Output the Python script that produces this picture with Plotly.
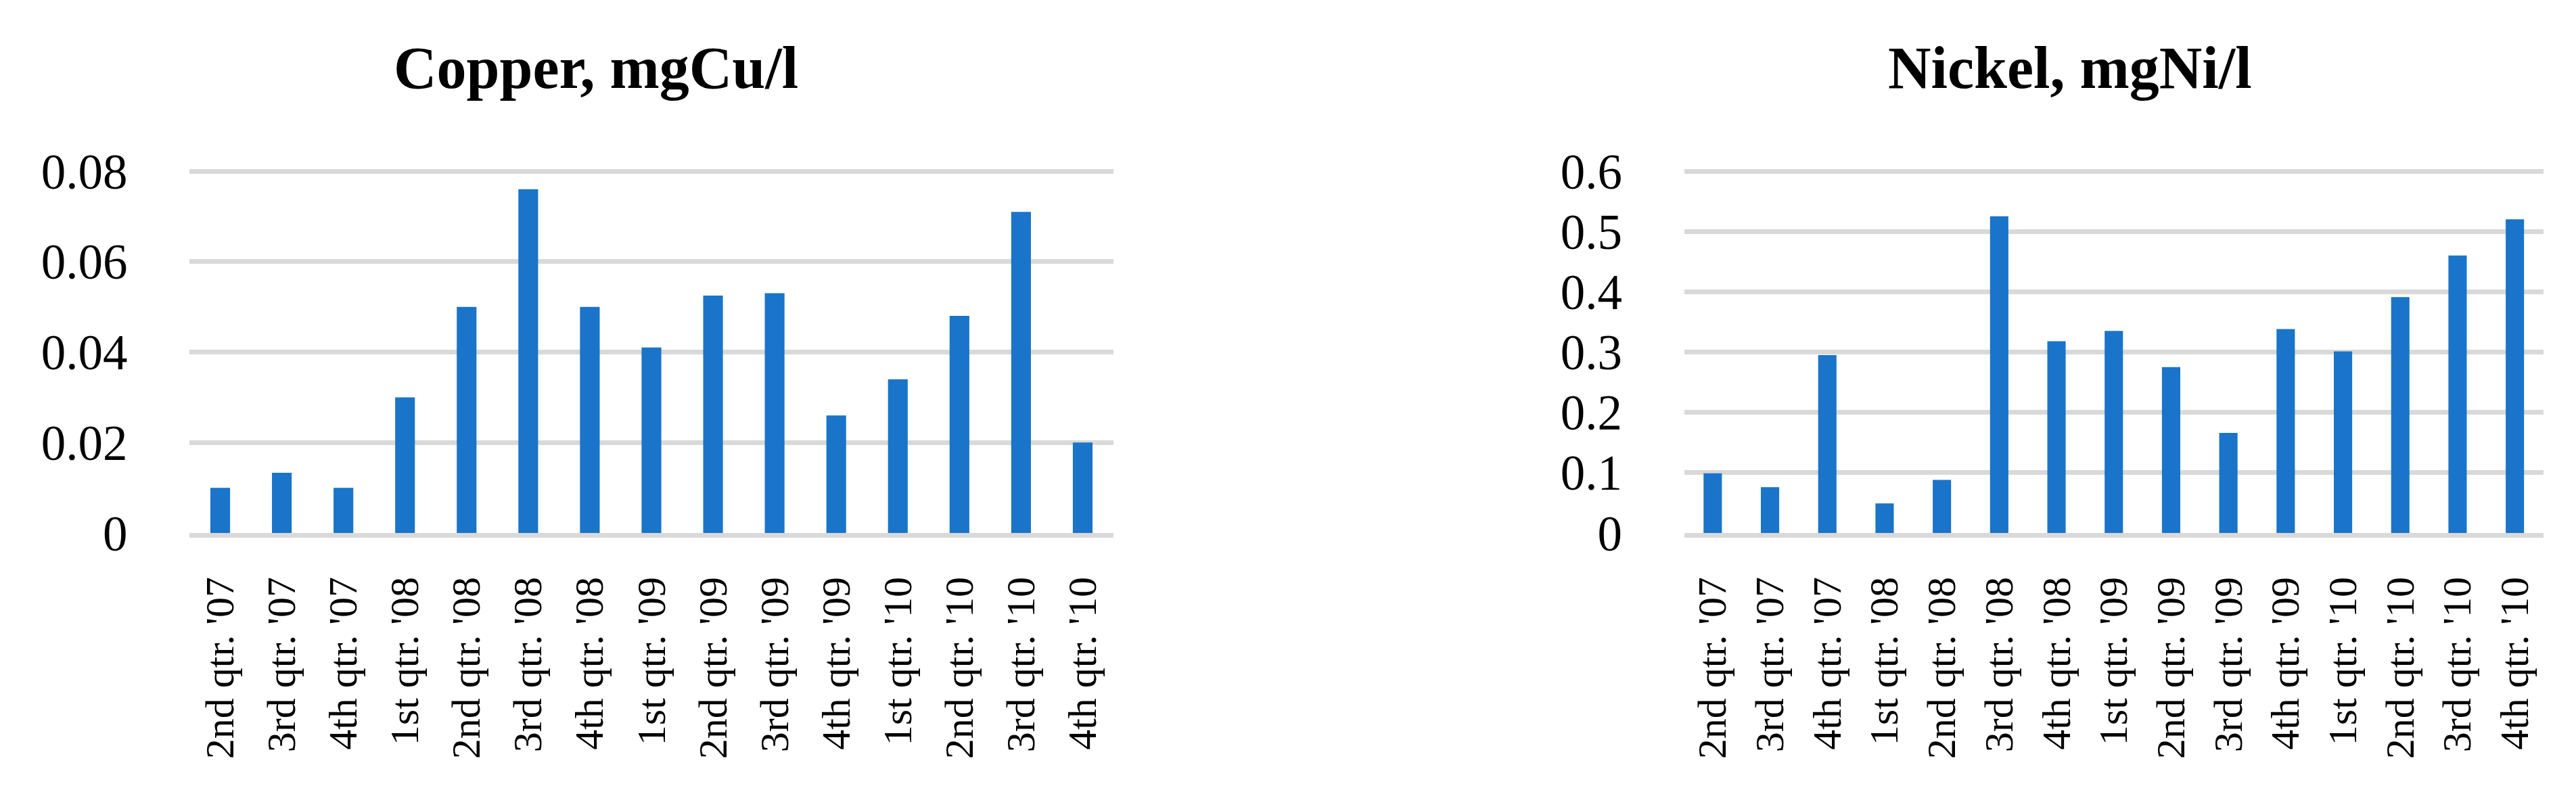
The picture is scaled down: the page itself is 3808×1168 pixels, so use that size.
import plotly.graph_objects as go


# Datos (trimestres 2007 - 2010)
trimestres = ["2nd qtr. '07", "3rd qtr. '07", "4th qtr. '07",
              "1st qtr. '08", "2nd qtr. '08", "3rd qtr. '08", "4th qtr. '08",
              "1st qtr. '09", "2nd qtr. '09", "3rd qtr. '09", "4th qtr. '09",
              "1st qtr. '10", "2nd qtr. '10", "3rd qtr. '10", "4th qtr. '10"]

cobre = [0.010, 0.0133, 0.010, 0.030, 0.050, 0.076, 0.050, 0.041,
         0.0525, 0.053, 0.026, 0.034, 0.048, 0.071, 0.020]

niquel = [0.099, 0.076, 0.295, 0.049, 0.088, 0.525, 0.318, 0.335,
          0.275, 0.166, 0.338, 0.301, 0.391, 0.460, 0.520]

titulos = ['Copper, mgCu/l', 'Nickel, mgNi/l']
ticks_cobre = [0, 0.02, 0.04, 0.06, 0.08]
ticks_niquel = [0, 0.1, 0.2, 0.3, 0.4, 0.5, 0.6]

AZUL = '#1a74c9'
GRIS = '#d9d9d9'
FUENTE = 'Times New Roman, Liberation Serif, serif'

W, H = 3808, 1168
# el body de la pagina trae 8px de margen, se descuenta de todas las posiciones
OFF = 8
# zona de graficado en pixeles de la pagina (0 en 788, tope en 253)
Y0, Y1 = 788 - OFF, 253 - OFF
EXTRA = 5  # pixeles de mas arriba para que se vea la ultima linea de grilla


def px(x):
    return (x - OFF) / W


def eje_x(dominio):
    return dict(
        domain=dominio,
        type='category',
        tickangle=-90,
        ticks='outside', ticklen=34, tickcolor='rgba(0,0,0,0)',
        tickfont=dict(family=FUENTE, size=60, color='black'),
        showgrid=False, zeroline=False,
        showline=True, linecolor=GRIS, linewidth=7,
        automargin=False,
        fixedrange=True)


def eje_y(ticks, anchor):
    tope = ticks[-1] * (1 + EXTRA / (Y0 - Y1))
    return dict(
        domain=[(H - Y0) / H, (H - Y1 + EXTRA) / H],
        anchor=anchor,
        range=[0, tope],
        tickvals=ticks,
        ticks='outside', ticklen=76, tickcolor='rgba(0,0,0,0)',
        tickfont=dict(family=FUENTE, size=73, color='black'),
        showgrid=True, gridcolor=GRIS, gridwidth=7,
        zeroline=False, showline=False,
        automargin=False,
        fixedrange=True)


fig = go.Figure()

fig.add_trace(go.Bar(x=trimestres, y=cobre, marker_color=AZUL,
                     marker_line_width=0, xaxis='x', yaxis='y'))
fig.add_trace(go.Bar(x=trimestres, y=niquel, marker_color=AZUL,
                     marker_line_width=0, xaxis='x2', yaxis='y2'))

fig.update_layout(
    width=W, height=H,
    margin=dict(l=0, r=0, t=0, b=0, pad=0, autoexpand=False),
    paper_bgcolor='white', plot_bgcolor='white',
    showlegend=False,
    bargap=0.68,
    xaxis=eje_x([px(280), px(1646)]),
    yaxis=eje_y(ticks_cobre, 'x'),
    xaxis2=eje_x([px(2489.5), px(3760)]),
    yaxis2=eje_y(ticks_niquel, 'x2'),
    annotations=[
        dict(x=px(x), y=(H - (101 - OFF)) / H, xref='paper', yref='paper',
             xanchor='center', yanchor='middle', text=f'<b>{t}</b>',
             showarrow=False,
             font=dict(family='Palatino Linotype, Book Antiqua, Liberation Serif, serif',
                       size=88, color='black'))
        for x, t in zip([881, 3060], titulos)])

fig.write_html("out.html")
